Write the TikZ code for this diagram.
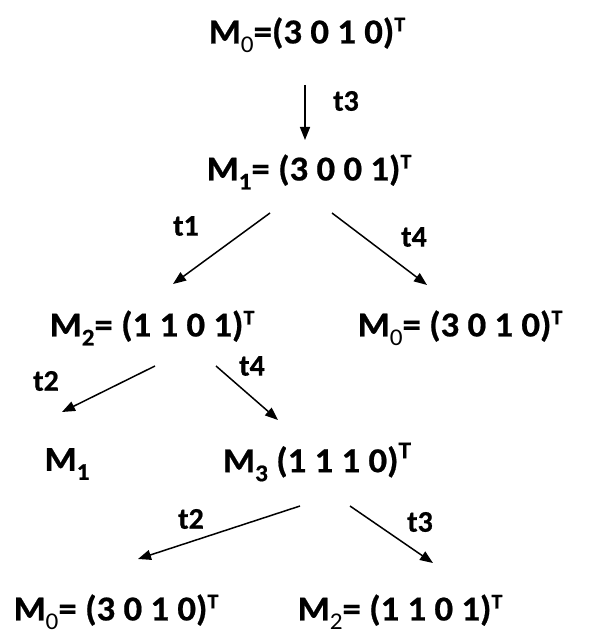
\documentclass[tikz,border=0pt]{standalone}
\usepackage{fontspec}
\setmainfont{Carlito}[BoldFeatures={FakeBold=0.6}]
\usetikzlibrary{arrows.meta}
\newcommand\sbn[1]{\raisebox{-9pt}{\fontsize{24}{24}\selectfont\mdseries #1}}
\newcommand\sbb[1]{\raisebox{-9pt}{\fontsize{24}{24}\selectfont #1}}
\newcommand\spT{\raisebox{12pt}{\fontsize{21}{21}\selectfont T}}
\newcommand\spTb{\raisebox{14pt}{\fontsize{24}{24}\selectfont T}}
\begin{document}
\begin{tikzpicture}[x=1pt,y=-1pt,
  mk/.style={font=\fontsize{35}{35}\selectfont\bfseries, inner sep=0pt},
  tlab/.style={font=\fontsize{30}{30}\selectfont\bfseries, inner sep=0pt},
  arr/.style={line width=1.5pt, -{Triangle[length=13pt,width=10pt]}}]
\useasboundingbox (0,0) rectangle (592,636);
\node[mk] (m0) at (307,35) {\scalebox{1.05}[1]{M\sbn{0}=(3 0 1 0)\spT}};
\node[mk] (m1) at (309,172) {\scalebox{1.05}[1]{M\sbb{1}= (3 0 0 1)\spT}};
\node[mk] (m2) at (152,328) {\scalebox{1.05}[1]{M\sbb{2}= (1 1 0 1)\spT}};
\node[mk] (m0b) at (460,328) {\scalebox{1.05}[1]{M\sbn{0}= (3 0 1 0)\spT}};
\node[mk] (m1b) at (67,464) {\scalebox{1.05}[1]{M\sbb{1}}};
\node[mk] (m3) at (317,462) {\scalebox{1.05}[1]{M\sbb{3} (1 1 1 0)\spTb}};
\node[mk] (m0c) at (116,612) {\scalebox{1.05}[1]{M\sbn{0}= (3 0 1 0)\spT}};
\node[mk] (m2c) at (400,612) {\scalebox{1.05}[1]{M\sbn{2}= (1 1 0 1)\spT}};
\coordinate (a1s) at (305,85);  \coordinate (a1e) at (305,140);
\coordinate (a2s) at (270,213); \coordinate (a2e) at (173,284);
\coordinate (a3s) at (332,213); \coordinate (a3e) at (427,285);
\coordinate (a4s) at (155,366); \coordinate (a4e) at (62,412);
\coordinate (a5s) at (216,366); \coordinate (a5e) at (278,420);
\coordinate (a6s) at (300,506); \coordinate (a6e) at (138,559);
\coordinate (a7s) at (350,506); \coordinate (a7e) at (433,563);
\draw[arr] (a1s) -- (a1e);
\draw[arr] (a2s) -- (a2e);
\draw[arr] (a3s) -- (a3e);
\draw[arr] (a4s) -- (a4e);
\draw[arr] (a5s) -- (a5e);
\draw[arr] (a6s) -- (a6e);
\draw[arr] (a7s) -- (a7e);
\node[tlab] (l1) at (346,101) {t3};
\node[tlab] (l2) at (186,226) {t1};
\node[tlab] (l3) at (414,237) {t4};
\node[tlab] (l4) at (46,381) {t2};
\node[tlab] (l5) at (252,366) {t4};
\node[tlab] (l6) at (191,519) {t2};
\node[tlab] (l7) at (420,522) {t3};
\end{tikzpicture}
\end{document}
